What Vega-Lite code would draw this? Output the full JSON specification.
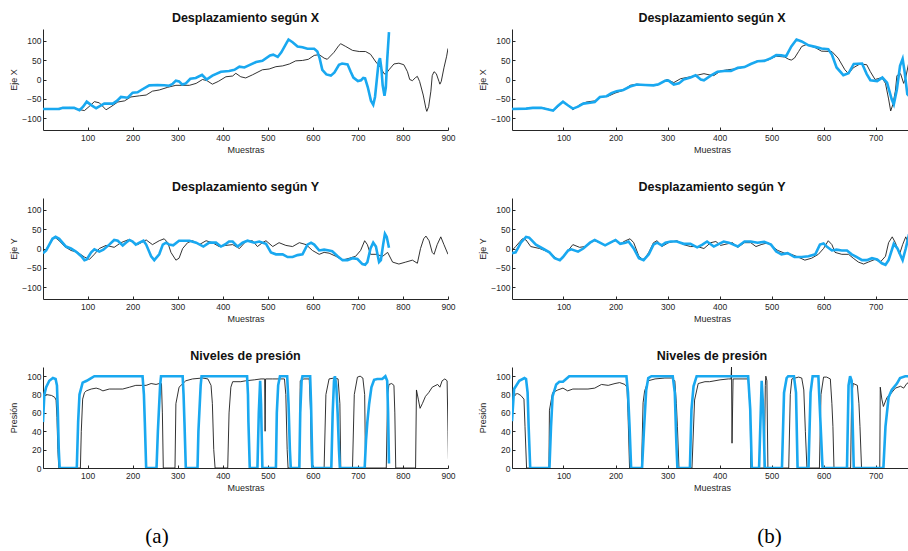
{
  "$schema": "https://vega.github.io/schema/vega-lite/v6.json",
  "padding": {"left": 9, "top": 11, "right": 0, "bottom": 0},
  "bounds": "flush",
  "columns": 2,
  "spacing": {"row": 68, "column": 64},
  "config": {
    "font": "Liberation Sans",
    "view": {"stroke": null},
    "axis": {
      "grid": false,
      "domainColor": "#262626",
      "domainWidth": 1,
      "tickColor": "#262626",
      "tickSize": -3,
      "labelFont": "Liberation Sans",
      "labelFontSize": 8.5,
      "labelColor": "#262626",
      "labelFlush": false,
      "titleFont": "Liberation Sans",
      "titleFontSize": 9,
      "titleFontWeight": "normal",
      "titleColor": "#262626"
    },
    "axisX": {"titleY": 19.5, "titleBaseline": "middle", "labelPadding": 6},
    "axisY": {"titleX": -30, "titleBaseline": "middle", "labelPadding": 5},
    "title": {"fontSize": 12.5, "fontWeight": "bold", "color": "#111111", "offset": 5, "font": "Liberation Sans"}
  },
  "datasets": {
    "xa": [
      {"muestra":1,"valor":-76,"serie":"real"},{"muestra":30,"valor":-75,"serie":"real"},{"muestra":60,"valor":-72,"serie":"real"},{"muestra":80,"valor":-77,"serie":"real"},{"muestra":93,"valor":-80,"serie":"real"},{"muestra":105,"valor":-68,"serie":"real"},{"muestra":115,"valor":-57,"serie":"real"},{"muestra":126,"valor":-60,"serie":"real"},{"muestra":141,"valor":-78,"serie":"real"},{"muestra":152,"valor":-70,"serie":"real"},{"muestra":167,"valor":-58,"serie":"real"},{"muestra":182,"valor":-55,"serie":"real"},{"muestra":196,"valor":-45,"serie":"real"},{"muestra":215,"valor":-42,"serie":"real"},{"muestra":230,"valor":-40,"serie":"real"},{"muestra":244,"valor":-30,"serie":"real"},{"muestra":259,"valor":-27,"serie":"real"},{"muestra":278,"valor":-20,"serie":"real"},{"muestra":296,"valor":-15,"serie":"real"},{"muestra":326,"valor":-15,"serie":"real"},{"muestra":341,"valor":-10,"serie":"real"},{"muestra":355,"valor":0,"serie":"real"},{"muestra":365,"valor":-3,"serie":"real"},{"muestra":377,"valor":-12,"serie":"real"},{"muestra":390,"valor":-5,"serie":"real"},{"muestra":407,"valor":7,"serie":"real"},{"muestra":422,"valor":9,"serie":"real"},{"muestra":429,"valor":16,"serie":"real"},{"muestra":440,"valor":7,"serie":"real"},{"muestra":451,"valor":4,"serie":"real"},{"muestra":466,"valor":12,"serie":"real"},{"muestra":488,"valor":25,"serie":"real"},{"muestra":503,"valor":27,"serie":"real"},{"muestra":518,"valor":33,"serie":"real"},{"muestra":533,"valor":35,"serie":"real"},{"muestra":548,"valor":40,"serie":"real"},{"muestra":562,"valor":48,"serie":"real"},{"muestra":577,"valor":49,"serie":"real"},{"muestra":590,"valor":52,"serie":"real"},{"muestra":603,"valor":62,"serie":"real"},{"muestra":614,"valor":64,"serie":"real"},{"muestra":625,"valor":55,"serie":"real"},{"muestra":632,"valor":52,"serie":"real"},{"muestra":647,"valor":70,"serie":"real"},{"muestra":658,"valor":88,"serie":"real"},{"muestra":662,"valor":92,"serie":"real"},{"muestra":673,"valor":85,"serie":"real"},{"muestra":688,"valor":75,"serie":"real"},{"muestra":703,"valor":72,"serie":"real"},{"muestra":717,"valor":72,"serie":"real"},{"muestra":728,"valor":65,"serie":"real"},{"muestra":740,"valor":45,"serie":"real"},{"muestra":751,"valor":30,"serie":"real"},{"muestra":758,"valor":15,"serie":"real"},{"muestra":762,"valor":14,"serie":"real"},{"muestra":769,"valor":25,"serie":"real"},{"muestra":780,"valor":40,"serie":"real"},{"muestra":791,"valor":42,"serie":"real"},{"muestra":802,"valor":38,"serie":"real"},{"muestra":810,"valor":20,"serie":"real"},{"muestra":815,"valor":0,"serie":"real"},{"muestra":821,"valor":-3,"serie":"real"},{"muestra":828,"valor":5,"serie":"real"},{"muestra":832,"valor":8,"serie":"real"},{"muestra":837,"valor":-5,"serie":"real"},{"muestra":845,"valor":-40,"serie":"real"},{"muestra":851,"valor":-75,"serie":"real"},{"muestra":853,"valor":-82,"serie":"real"},{"muestra":857,"valor":-70,"serie":"real"},{"muestra":862,"valor":-30,"serie":"real"},{"muestra":865,"valor":10,"serie":"real"},{"muestra":869,"valor":20,"serie":"real"},{"muestra":874,"valor":15,"serie":"real"},{"muestra":880,"valor":-5,"serie":"real"},{"muestra":882,"valor":-12,"serie":"real"},{"muestra":885,"valor":-5,"serie":"real"},{"muestra":891,"valor":30,"serie":"real"},{"muestra":897,"valor":60,"serie":"real"},{"muestra":900,"valor":80,"serie":"real"},
      {"muestra":1,"valor":-76,"serie":"estimada"},{"muestra":37,"valor":-76,"serie":"estimada"},{"muestra":45,"valor":-73,"serie":"estimada"},{"muestra":70,"valor":-73,"serie":"estimada"},{"muestra":82,"valor":-79,"serie":"estimada"},{"muestra":90,"valor":-70,"serie":"estimada"},{"muestra":98,"valor":-57,"serie":"estimada"},{"muestra":108,"valor":-66,"serie":"estimada"},{"muestra":119,"valor":-74,"serie":"estimada"},{"muestra":128,"valor":-68,"serie":"estimada"},{"muestra":137,"valor":-62,"serie":"estimada"},{"muestra":156,"valor":-62,"serie":"estimada"},{"muestra":165,"valor":-55,"serie":"estimada"},{"muestra":174,"valor":-45,"serie":"estimada"},{"muestra":189,"valor":-47,"serie":"estimada"},{"muestra":200,"valor":-34,"serie":"estimada"},{"muestra":211,"valor":-33,"serie":"estimada"},{"muestra":219,"valor":-27,"serie":"estimada"},{"muestra":237,"valor":-15,"serie":"estimada"},{"muestra":255,"valor":-14,"serie":"estimada"},{"muestra":270,"valor":-15,"serie":"estimada"},{"muestra":281,"valor":-16,"serie":"estimada"},{"muestra":289,"valor":-11,"serie":"estimada"},{"muestra":296,"valor":-3,"serie":"estimada"},{"muestra":303,"valor":-5,"serie":"estimada"},{"muestra":310,"valor":-13,"serie":"estimada"},{"muestra":318,"valor":-10,"serie":"estimada"},{"muestra":328,"valor":2,"serie":"estimada"},{"muestra":340,"valor":4,"serie":"estimada"},{"muestra":354,"valor":12,"serie":"estimada"},{"muestra":364,"valor":0,"serie":"estimada"},{"muestra":377,"valor":10,"serie":"estimada"},{"muestra":396,"valor":20,"serie":"estimada"},{"muestra":414,"valor":22,"serie":"estimada"},{"muestra":426,"valor":25,"serie":"estimada"},{"muestra":437,"valor":33,"serie":"estimada"},{"muestra":448,"valor":31,"serie":"estimada"},{"muestra":459,"valor":37,"serie":"estimada"},{"muestra":474,"valor":45,"serie":"estimada"},{"muestra":488,"valor":48,"serie":"estimada"},{"muestra":505,"valor":62,"serie":"estimada"},{"muestra":512,"valor":64,"serie":"estimada"},{"muestra":522,"valor":58,"serie":"estimada"},{"muestra":530,"valor":70,"serie":"estimada"},{"muestra":542,"valor":95,"serie":"estimada"},{"muestra":546,"valor":103,"serie":"estimada"},{"muestra":555,"valor":96,"serie":"estimada"},{"muestra":566,"valor":85,"serie":"estimada"},{"muestra":577,"valor":83,"serie":"estimada"},{"muestra":588,"valor":79,"serie":"estimada"},{"muestra":603,"valor":79,"serie":"estimada"},{"muestra":610,"valor":72,"serie":"estimada"},{"muestra":615,"valor":55,"serie":"estimada"},{"muestra":621,"valor":25,"serie":"estimada"},{"muestra":630,"valor":13,"serie":"estimada"},{"muestra":640,"valor":10,"serie":"estimada"},{"muestra":648,"valor":18,"serie":"estimada"},{"muestra":658,"valor":38,"serie":"estimada"},{"muestra":665,"valor":41,"serie":"estimada"},{"muestra":677,"valor":39,"serie":"estimada"},{"muestra":684,"valor":20,"serie":"estimada"},{"muestra":690,"valor":5,"serie":"estimada"},{"muestra":700,"valor":-4,"serie":"estimada"},{"muestra":707,"valor":-2,"serie":"estimada"},{"muestra":712,"valor":4,"serie":"estimada"},{"muestra":716,"valor":3,"serie":"estimada"},{"muestra":722,"valor":-20,"serie":"estimada"},{"muestra":729,"valor":-55,"serie":"estimada"},{"muestra":734,"valor":-65,"serie":"estimada"},{"muestra":738,"valor":-45,"serie":"estimada"},{"muestra":742,"valor":0,"serie":"estimada"},{"muestra":746,"valor":45,"serie":"estimada"},{"muestra":749,"valor":55,"serie":"estimada"},{"muestra":752,"valor":30,"serie":"estimada"},{"muestra":755,"valor":-15,"serie":"estimada"},{"muestra":759,"valor":-42,"serie":"estimada"},{"muestra":762,"valor":-20,"serie":"estimada"},{"muestra":765,"valor":50,"serie":"estimada"},{"muestra":769,"valor":122,"serie":"estimada"}
    ],
    "ya": [
      {"muestra":1,"valor":-15,"serie":"real"},{"muestra":8,"valor":-2,"serie":"real"},{"muestra":15,"valor":10,"serie":"real"},{"muestra":26,"valor":30,"serie":"real"},{"muestra":37,"valor":20,"serie":"real"},{"muestra":49,"valor":5,"serie":"real"},{"muestra":63,"valor":-5,"serie":"real"},{"muestra":78,"valor":-10,"serie":"real"},{"muestra":93,"valor":-22,"serie":"real"},{"muestra":104,"valor":-28,"serie":"real"},{"muestra":115,"valor":-15,"serie":"real"},{"muestra":126,"valor":0,"serie":"real"},{"muestra":141,"valor":8,"serie":"real"},{"muestra":152,"valor":5,"serie":"real"},{"muestra":159,"valor":3,"serie":"real"},{"muestra":174,"valor":15,"serie":"real"},{"muestra":189,"valor":22,"serie":"real"},{"muestra":200,"valor":18,"serie":"real"},{"muestra":211,"valor":10,"serie":"real"},{"muestra":230,"valor":22,"serie":"real"},{"muestra":244,"valor":10,"serie":"real"},{"muestra":259,"valor":20,"serie":"real"},{"muestra":270,"valor":25,"serie":"real"},{"muestra":278,"valor":15,"serie":"real"},{"muestra":285,"valor":-10,"serie":"real"},{"muestra":296,"valor":-30,"serie":"real"},{"muestra":303,"valor":-25,"serie":"real"},{"muestra":311,"valor":0,"serie":"real"},{"muestra":322,"valor":15,"serie":"real"},{"muestra":333,"valor":20,"serie":"real"},{"muestra":348,"valor":10,"serie":"real"},{"muestra":363,"valor":20,"serie":"real"},{"muestra":377,"valor":15,"serie":"real"},{"muestra":392,"valor":5,"serie":"real"},{"muestra":407,"valor":8,"serie":"real"},{"muestra":422,"valor":10,"serie":"real"},{"muestra":437,"valor":0,"serie":"real"},{"muestra":451,"valor":18,"serie":"real"},{"muestra":466,"valor":20,"serie":"real"},{"muestra":477,"valor":5,"serie":"real"},{"muestra":488,"valor":15,"serie":"real"},{"muestra":496,"valor":20,"serie":"real"},{"muestra":511,"valor":5,"serie":"real"},{"muestra":525,"valor":15,"serie":"real"},{"muestra":540,"valor":8,"serie":"real"},{"muestra":555,"valor":5,"serie":"real"},{"muestra":570,"valor":15,"serie":"real"},{"muestra":585,"valor":10,"serie":"real"},{"muestra":599,"valor":-5,"serie":"real"},{"muestra":614,"valor":-15,"serie":"real"},{"muestra":625,"valor":-10,"serie":"real"},{"muestra":636,"valor":-12,"serie":"real"},{"muestra":651,"valor":-20,"serie":"real"},{"muestra":666,"valor":-30,"serie":"real"},{"muestra":681,"valor":-25,"serie":"real"},{"muestra":695,"valor":-20,"serie":"real"},{"muestra":706,"valor":-5,"serie":"real"},{"muestra":715,"valor":20,"serie":"real"},{"muestra":721,"valor":10,"serie":"real"},{"muestra":728,"valor":-15,"serie":"real"},{"muestra":740,"valor":-15,"serie":"real"},{"muestra":755,"valor":-20,"serie":"real"},{"muestra":766,"valor":-10,"serie":"real"},{"muestra":777,"valor":-35,"serie":"real"},{"muestra":791,"valor":-40,"serie":"real"},{"muestra":806,"valor":-35,"serie":"real"},{"muestra":821,"valor":-30,"serie":"real"},{"muestra":832,"valor":-38,"serie":"real"},{"muestra":839,"valor":0,"serie":"real"},{"muestra":846,"valor":25,"serie":"real"},{"muestra":851,"valor":32,"serie":"real"},{"muestra":858,"valor":20,"serie":"real"},{"muestra":865,"valor":-10,"serie":"real"},{"muestra":869,"valor":-15,"serie":"real"},{"muestra":876,"valor":10,"serie":"real"},{"muestra":884,"valor":30,"serie":"real"},{"muestra":891,"valor":10,"serie":"real"},{"muestra":900,"valor":-15,"serie":"real"},
      {"muestra":1,"valor":-12,"serie":"estimada"},{"muestra":8,"valor":-5,"serie":"estimada"},{"muestra":15,"valor":10,"serie":"estimada"},{"muestra":22,"valor":25,"serie":"estimada"},{"muestra":29,"valor":30,"serie":"estimada"},{"muestra":37,"valor":25,"serie":"estimada"},{"muestra":52,"valor":5,"serie":"estimada"},{"muestra":63,"valor":0,"serie":"estimada"},{"muestra":74,"valor":-8,"serie":"estimada"},{"muestra":86,"valor":-20,"serie":"estimada"},{"muestra":93,"valor":-30,"serie":"estimada"},{"muestra":98,"valor":-28,"serie":"estimada"},{"muestra":108,"valor":-10,"serie":"estimada"},{"muestra":115,"valor":-2,"serie":"estimada"},{"muestra":126,"valor":-8,"serie":"estimada"},{"muestra":135,"valor":-3,"serie":"estimada"},{"muestra":148,"valor":10,"serie":"estimada"},{"muestra":159,"valor":22,"serie":"estimada"},{"muestra":167,"valor":20,"serie":"estimada"},{"muestra":178,"valor":8,"serie":"estimada"},{"muestra":185,"valor":15,"serie":"estimada"},{"muestra":193,"valor":22,"serie":"estimada"},{"muestra":200,"valor":18,"serie":"estimada"},{"muestra":207,"valor":10,"serie":"estimada"},{"muestra":215,"valor":15,"serie":"estimada"},{"muestra":224,"valor":20,"serie":"estimada"},{"muestra":230,"valor":10,"serie":"estimada"},{"muestra":241,"valor":-20,"serie":"estimada"},{"muestra":248,"valor":-30,"serie":"estimada"},{"muestra":259,"valor":-15,"serie":"estimada"},{"muestra":267,"valor":10,"serie":"estimada"},{"muestra":274,"valor":15,"serie":"estimada"},{"muestra":281,"valor":10,"serie":"estimada"},{"muestra":290,"valor":8,"serie":"estimada"},{"muestra":303,"valor":20,"serie":"estimada"},{"muestra":326,"valor":20,"serie":"estimada"},{"muestra":341,"valor":15,"serie":"estimada"},{"muestra":357,"valor":5,"serie":"estimada"},{"muestra":370,"valor":15,"serie":"estimada"},{"muestra":385,"valor":15,"serie":"estimada"},{"muestra":396,"valor":5,"serie":"estimada"},{"muestra":407,"valor":12,"serie":"estimada"},{"muestra":414,"valor":18,"serie":"estimada"},{"muestra":422,"valor":18,"serie":"estimada"},{"muestra":433,"valor":5,"serie":"estimada"},{"muestra":444,"valor":15,"serie":"estimada"},{"muestra":455,"valor":20,"serie":"estimada"},{"muestra":470,"valor":15,"serie":"estimada"},{"muestra":481,"valor":18,"serie":"estimada"},{"muestra":496,"valor":12,"serie":"estimada"},{"muestra":507,"valor":-10,"serie":"estimada"},{"muestra":518,"valor":-15,"serie":"estimada"},{"muestra":533,"valor":-15,"serie":"estimada"},{"muestra":544,"valor":-22,"serie":"estimada"},{"muestra":555,"valor":-22,"serie":"estimada"},{"muestra":566,"valor":-17,"serie":"estimada"},{"muestra":577,"valor":-15,"serie":"estimada"},{"muestra":588,"valor":10,"serie":"estimada"},{"muestra":596,"valor":15,"serie":"estimada"},{"muestra":603,"valor":10,"serie":"estimada"},{"muestra":614,"valor":-5,"serie":"estimada"},{"muestra":625,"valor":-3,"serie":"estimada"},{"muestra":636,"valor":-5,"serie":"estimada"},{"muestra":643,"valor":-7,"serie":"estimada"},{"muestra":655,"valor":-20,"serie":"estimada"},{"muestra":666,"valor":-30,"serie":"estimada"},{"muestra":677,"valor":-30,"serie":"estimada"},{"muestra":688,"valor":-25,"serie":"estimada"},{"muestra":699,"valor":-27,"serie":"estimada"},{"muestra":710,"valor":-40,"serie":"estimada"},{"muestra":716,"valor":-42,"serie":"estimada"},{"muestra":721,"valor":-35,"serie":"estimada"},{"muestra":728,"valor":0,"serie":"estimada"},{"muestra":734,"valor":15,"serie":"estimada"},{"muestra":740,"valor":5,"serie":"estimada"},{"muestra":747,"valor":-35,"serie":"estimada"},{"muestra":751,"valor":-30,"serie":"estimada"},{"muestra":756,"valor":10,"serie":"estimada"},{"muestra":760,"valor":38,"serie":"estimada"},{"muestra":764,"valor":30,"serie":"estimada"},{"muestra":769,"valor":2,"serie":"estimada"}
    ],
    "pa": [
      {"muestra":1,"valor":70,"serie":"real"},{"muestra":3,"valor":78,"serie":"real"},{"muestra":8,"valor":80,"serie":"real"},{"muestra":20,"valor":79,"serie":"real"},{"muestra":27,"valor":77,"serie":"real"},{"muestra":30,"valor":74,"serie":"real"},{"muestra":32,"valor":55,"serie":"real"},{"muestra":34,"valor":20,"serie":"real"},{"muestra":36,"valor":0,"serie":"real"},{"muestra":84,"valor":0,"serie":"real"},{"muestra":86,"valor":40,"serie":"real"},{"muestra":89,"valor":75,"serie":"real"},{"muestra":93,"valor":82,"serie":"real"},{"muestra":97,"valor":84,"serie":"real"},{"muestra":108,"valor":86,"serie":"real"},{"muestra":119,"valor":87,"serie":"real"},{"muestra":126,"valor":86,"serie":"real"},{"muestra":134,"valor":84,"serie":"real"},{"muestra":148,"valor":86,"serie":"real"},{"muestra":163,"valor":86,"serie":"real"},{"muestra":178,"valor":86,"serie":"real"},{"muestra":193,"valor":88,"serie":"real"},{"muestra":207,"valor":90,"serie":"real"},{"muestra":219,"valor":90,"serie":"real"},{"muestra":230,"valor":90,"serie":"real"},{"muestra":241,"valor":92,"serie":"real"},{"muestra":252,"valor":91,"serie":"real"},{"muestra":259,"valor":92,"serie":"real"},{"muestra":264,"valor":92,"serie":"real"},{"muestra":266,"valor":60,"serie":"real"},{"muestra":268,"valor":0,"serie":"real"},{"muestra":294,"valor":0,"serie":"real"},{"muestra":296,"valor":70,"serie":"real"},{"muestra":303,"valor":88,"serie":"real"},{"muestra":318,"valor":95,"serie":"real"},{"muestra":333,"valor":97,"serie":"real"},{"muestra":355,"valor":98,"serie":"real"},{"muestra":367,"valor":97,"serie":"real"},{"muestra":374,"valor":90,"serie":"real"},{"muestra":377,"valor":70,"serie":"real"},{"muestra":380,"valor":20,"serie":"real"},{"muestra":383,"valor":0,"serie":"real"},{"muestra":411,"valor":0,"serie":"real"},{"muestra":414,"valor":60,"serie":"real"},{"muestra":418,"valor":88,"serie":"real"},{"muestra":422,"valor":94,"serie":"real"},{"muestra":440,"valor":94,"serie":"real"},{"muestra":451,"valor":95,"serie":"real"},{"muestra":470,"valor":96,"serie":"real"},{"muestra":485,"valor":97,"serie":"real"},{"muestra":493,"valor":97,"serie":"real"},{"muestra":494,"valor":40,"serie":"real"},{"muestra":495,"valor":97,"serie":"real"},{"muestra":510,"valor":97,"serie":"real"},{"muestra":537,"valor":97,"serie":"real"},{"muestra":540,"valor":80,"serie":"real"},{"muestra":543,"valor":20,"serie":"real"},{"muestra":545,"valor":0,"serie":"real"},{"muestra":570,"valor":0,"serie":"real"},{"muestra":572,"valor":95,"serie":"real"},{"muestra":580,"valor":97,"serie":"real"},{"muestra":592,"valor":97,"serie":"real"},{"muestra":595,"valor":60,"serie":"real"},{"muestra":597,"valor":0,"serie":"real"},{"muestra":625,"valor":0,"serie":"real"},{"muestra":629,"valor":80,"serie":"real"},{"muestra":636,"valor":97,"serie":"real"},{"muestra":647,"valor":98,"serie":"real"},{"muestra":656,"valor":97,"serie":"real"},{"muestra":660,"valor":70,"serie":"real"},{"muestra":662,"valor":0,"serie":"real"},{"muestra":688,"valor":0,"serie":"real"},{"muestra":692,"valor":80,"serie":"real"},{"muestra":699,"valor":99,"serie":"real"},{"muestra":705,"valor":100,"serie":"real"},{"muestra":711,"valor":98,"serie":"real"},{"muestra":715,"valor":80,"serie":"real"},{"muestra":717,"valor":0,"serie":"real"},{"muestra":763,"valor":0,"serie":"real"},{"muestra":766,"valor":80,"serie":"real"},{"muestra":769,"valor":91,"serie":"real"},{"muestra":775,"valor":92,"serie":"real"},{"muestra":780,"valor":90,"serie":"real"},{"muestra":782,"valor":60,"serie":"real"},{"muestra":784,"valor":0,"serie":"real"},{"muestra":828,"valor":0,"serie":"real"},{"muestra":830,"valor":85,"serie":"real"},{"muestra":834,"valor":75,"serie":"real"},{"muestra":838,"valor":65,"serie":"real"},{"muestra":843,"valor":70,"serie":"real"},{"muestra":850,"valor":78,"serie":"real"},{"muestra":857,"valor":82,"serie":"real"},{"muestra":865,"valor":88,"serie":"real"},{"muestra":877,"valor":91,"serie":"real"},{"muestra":882,"valor":88,"serie":"real"},{"muestra":887,"valor":95,"serie":"real"},{"muestra":893,"valor":97,"serie":"real"},{"muestra":898,"valor":95,"serie":"real"},{"muestra":900,"valor":40,"serie":"real"},{"muestra":901,"valor":10,"serie":"real"},
      {"muestra":1,"valor":50,"serie":"estimada"},{"muestra":4,"valor":80,"serie":"estimada"},{"muestra":8,"valor":88,"serie":"estimada"},{"muestra":15,"valor":95,"serie":"estimada"},{"muestra":23,"valor":98,"serie":"estimada"},{"muestra":29,"valor":97,"serie":"estimada"},{"muestra":32,"valor":90,"serie":"estimada"},{"muestra":34,"valor":60,"serie":"estimada"},{"muestra":36,"valor":20,"serie":"estimada"},{"muestra":38,"valor":0,"serie":"estimada"},{"muestra":76,"valor":0,"serie":"estimada"},{"muestra":79,"valor":50,"serie":"estimada"},{"muestra":82,"valor":80,"serie":"estimada"},{"muestra":89,"valor":93,"serie":"estimada"},{"muestra":98,"valor":95,"serie":"estimada"},{"muestra":108,"valor":98,"serie":"estimada"},{"muestra":115,"valor":100,"serie":"estimada"},{"muestra":222,"valor":100,"serie":"estimada"},{"muestra":225,"valor":80,"serie":"estimada"},{"muestra":227,"valor":50,"serie":"estimada"},{"muestra":230,"valor":0,"serie":"estimada"},{"muestra":253,"valor":0,"serie":"estimada"},{"muestra":256,"valor":40,"serie":"estimada"},{"muestra":258,"valor":60,"serie":"estimada"},{"muestra":261,"valor":90,"serie":"estimada"},{"muestra":263,"valor":100,"serie":"estimada"},{"muestra":311,"valor":100,"serie":"estimada"},{"muestra":313,"valor":80,"serie":"estimada"},{"muestra":315,"valor":50,"serie":"estimada"},{"muestra":318,"valor":0,"serie":"estimada"},{"muestra":344,"valor":0,"serie":"estimada"},{"muestra":346,"valor":40,"serie":"estimada"},{"muestra":348,"valor":60,"serie":"estimada"},{"muestra":351,"valor":90,"serie":"estimada"},{"muestra":353,"valor":100,"serie":"estimada"},{"muestra":454,"valor":100,"serie":"estimada"},{"muestra":456,"valor":80,"serie":"estimada"},{"muestra":457,"valor":50,"serie":"estimada"},{"muestra":460,"valor":0,"serie":"estimada"},{"muestra":477,"valor":0,"serie":"estimada"},{"muestra":480,"valor":60,"serie":"estimada"},{"muestra":483,"valor":95,"serie":"estimada"},{"muestra":485,"valor":70,"serie":"estimada"},{"muestra":488,"valor":0,"serie":"estimada"},{"muestra":518,"valor":0,"serie":"estimada"},{"muestra":520,"valor":60,"serie":"estimada"},{"muestra":523,"valor":90,"serie":"estimada"},{"muestra":527,"valor":100,"serie":"estimada"},{"muestra":543,"valor":100,"serie":"estimada"},{"muestra":546,"valor":70,"serie":"estimada"},{"muestra":549,"valor":20,"serie":"estimada"},{"muestra":551,"valor":0,"serie":"estimada"},{"muestra":570,"valor":0,"serie":"estimada"},{"muestra":572,"valor":60,"serie":"estimada"},{"muestra":575,"valor":95,"serie":"estimada"},{"muestra":577,"valor":100,"serie":"estimada"},{"muestra":594,"valor":100,"serie":"estimada"},{"muestra":596,"valor":70,"serie":"estimada"},{"muestra":599,"valor":0,"serie":"estimada"},{"muestra":641,"valor":0,"serie":"estimada"},{"muestra":644,"valor":60,"serie":"estimada"},{"muestra":647,"valor":95,"serie":"estimada"},{"muestra":649,"valor":100,"serie":"estimada"},{"muestra":652,"valor":90,"serie":"estimada"},{"muestra":655,"valor":60,"serie":"estimada"},{"muestra":658,"valor":20,"serie":"estimada"},{"muestra":660,"valor":0,"serie":"estimada"},{"muestra":715,"valor":0,"serie":"estimada"},{"muestra":718,"valor":30,"serie":"estimada"},{"muestra":721,"valor":50,"serie":"estimada"},{"muestra":725,"valor":70,"serie":"estimada"},{"muestra":730,"valor":88,"serie":"estimada"},{"muestra":736,"valor":96,"serie":"estimada"},{"muestra":743,"valor":97,"serie":"estimada"},{"muestra":754,"valor":97,"serie":"estimada"},{"muestra":761,"valor":100,"serie":"estimada"},{"muestra":765,"valor":95,"serie":"estimada"},{"muestra":767,"valor":60,"serie":"estimada"},{"muestra":769,"valor":5,"serie":"estimada"}
    ],
    "xb": [
      {"muestra":1,"valor":-76,"serie":"real"},{"muestra":30,"valor":-75,"serie":"real"},{"muestra":57,"valor":-72,"serie":"real"},{"muestra":70,"valor":-76,"serie":"real"},{"muestra":80,"valor":-80,"serie":"real"},{"muestra":90,"valor":-70,"serie":"real"},{"muestra":99,"valor":-58,"serie":"real"},{"muestra":110,"valor":-68,"serie":"real"},{"muestra":118,"valor":-78,"serie":"real"},{"muestra":131,"valor":-65,"serie":"real"},{"muestra":144,"valor":-58,"serie":"real"},{"muestra":160,"valor":-55,"serie":"real"},{"muestra":173,"valor":-45,"serie":"real"},{"muestra":186,"valor":-43,"serie":"real"},{"muestra":199,"valor":-35,"serie":"real"},{"muestra":215,"valor":-28,"serie":"real"},{"muestra":228,"valor":-15,"serie":"real"},{"muestra":241,"valor":-12,"serie":"real"},{"muestra":260,"valor":-15,"serie":"real"},{"muestra":280,"valor":-15,"serie":"real"},{"muestra":290,"valor":-8,"serie":"real"},{"muestra":299,"valor":0,"serie":"real"},{"muestra":312,"valor":-8,"serie":"real"},{"muestra":325,"valor":2,"serie":"real"},{"muestra":344,"valor":7,"serie":"real"},{"muestra":360,"valor":12,"serie":"real"},{"muestra":370,"valor":15,"serie":"real"},{"muestra":380,"valor":12,"serie":"real"},{"muestra":389,"valor":10,"serie":"real"},{"muestra":402,"valor":22,"serie":"real"},{"muestra":415,"valor":25,"serie":"real"},{"muestra":435,"valor":28,"serie":"real"},{"muestra":454,"valor":35,"serie":"real"},{"muestra":473,"valor":48,"serie":"real"},{"muestra":493,"valor":50,"serie":"real"},{"muestra":509,"valor":60,"serie":"real"},{"muestra":525,"valor":58,"serie":"real"},{"muestra":533,"valor":52,"serie":"real"},{"muestra":538,"valor":50,"serie":"real"},{"muestra":544,"valor":55,"serie":"real"},{"muestra":552,"valor":72,"serie":"real"},{"muestra":558,"valor":85,"serie":"real"},{"muestra":567,"valor":90,"serie":"real"},{"muestra":584,"valor":82,"serie":"real"},{"muestra":596,"valor":73,"serie":"real"},{"muestra":616,"valor":72,"serie":"real"},{"muestra":628,"valor":55,"serie":"real"},{"muestra":641,"valor":25,"serie":"real"},{"muestra":648,"valor":15,"serie":"real"},{"muestra":657,"valor":30,"serie":"real"},{"muestra":670,"valor":40,"serie":"real"},{"muestra":683,"valor":38,"serie":"real"},{"muestra":690,"valor":20,"serie":"real"},{"muestra":699,"valor":0,"serie":"real"},{"muestra":712,"valor":5,"serie":"real"},{"muestra":719,"valor":-10,"serie":"real"},{"muestra":725,"valor":-50,"serie":"real"},{"muestra":729,"valor":-81,"serie":"real"},{"muestra":733,"valor":-65,"serie":"real"},{"muestra":738,"valor":-30,"serie":"real"},{"muestra":741,"valor":10,"serie":"real"},{"muestra":748,"valor":15,"serie":"real"},{"muestra":754,"valor":-10,"serie":"real"},{"muestra":758,"valor":5,"serie":"real"},{"muestra":764,"valor":45,"serie":"real"},{"muestra":770,"valor":45,"serie":"real"},
      {"muestra":1,"valor":-76,"serie":"estimada"},{"muestra":28,"valor":-75,"serie":"estimada"},{"muestra":41,"valor":-73,"serie":"estimada"},{"muestra":57,"valor":-73,"serie":"estimada"},{"muestra":73,"valor":-78,"serie":"estimada"},{"muestra":80,"valor":-80,"serie":"estimada"},{"muestra":89,"valor":-68,"serie":"estimada"},{"muestra":99,"valor":-57,"serie":"estimada"},{"muestra":109,"valor":-67,"serie":"estimada"},{"muestra":118,"valor":-75,"serie":"estimada"},{"muestra":128,"valor":-70,"serie":"estimada"},{"muestra":138,"valor":-62,"serie":"estimada"},{"muestra":151,"valor":-60,"serie":"estimada"},{"muestra":160,"valor":-58,"serie":"estimada"},{"muestra":170,"valor":-45,"serie":"estimada"},{"muestra":183,"valor":-43,"serie":"estimada"},{"muestra":192,"valor":-35,"serie":"estimada"},{"muestra":202,"valor":-30,"serie":"estimada"},{"muestra":215,"valor":-27,"serie":"estimada"},{"muestra":228,"valor":-18,"serie":"estimada"},{"muestra":241,"valor":-13,"serie":"estimada"},{"muestra":257,"valor":-14,"serie":"estimada"},{"muestra":273,"valor":-15,"serie":"estimada"},{"muestra":283,"valor":-12,"serie":"estimada"},{"muestra":296,"valor":-3,"serie":"estimada"},{"muestra":302,"valor":-3,"serie":"estimada"},{"muestra":312,"valor":-13,"serie":"estimada"},{"muestra":322,"valor":-10,"serie":"estimada"},{"muestra":331,"valor":0,"serie":"estimada"},{"muestra":344,"valor":5,"serie":"estimada"},{"muestra":354,"valor":11,"serie":"estimada"},{"muestra":364,"valor":0,"serie":"estimada"},{"muestra":370,"valor":-2,"serie":"estimada"},{"muestra":383,"valor":10,"serie":"estimada"},{"muestra":396,"valor":20,"serie":"estimada"},{"muestra":409,"valor":22,"serie":"estimada"},{"muestra":422,"valor":22,"serie":"estimada"},{"muestra":435,"valor":30,"serie":"estimada"},{"muestra":448,"valor":32,"serie":"estimada"},{"muestra":460,"valor":40,"serie":"estimada"},{"muestra":473,"valor":47,"serie":"estimada"},{"muestra":486,"valor":48,"serie":"estimada"},{"muestra":499,"valor":55,"serie":"estimada"},{"muestra":509,"valor":63,"serie":"estimada"},{"muestra":519,"valor":62,"serie":"estimada"},{"muestra":528,"valor":60,"serie":"estimada"},{"muestra":538,"valor":85,"serie":"estimada"},{"muestra":548,"valor":103,"serie":"estimada"},{"muestra":558,"valor":98,"serie":"estimada"},{"muestra":571,"valor":88,"serie":"estimada"},{"muestra":584,"valor":84,"serie":"estimada"},{"muestra":596,"valor":80,"serie":"estimada"},{"muestra":609,"valor":78,"serie":"estimada"},{"muestra":616,"valor":64,"serie":"estimada"},{"muestra":625,"valor":31,"serie":"estimada"},{"muestra":638,"valor":11,"serie":"estimada"},{"muestra":648,"valor":16,"serie":"estimada"},{"muestra":658,"valor":40,"serie":"estimada"},{"muestra":674,"valor":41,"serie":"estimada"},{"muestra":683,"valor":14,"serie":"estimada"},{"muestra":690,"valor":-2,"serie":"estimada"},{"muestra":703,"valor":-4,"serie":"estimada"},{"muestra":713,"valor":5,"serie":"estimada"},{"muestra":722,"valor":-8,"serie":"estimada"},{"muestra":731,"valor":-51,"serie":"estimada"},{"muestra":735,"valor":-64,"serie":"estimada"},{"muestra":741,"valor":-25,"serie":"estimada"},{"muestra":747,"valor":35,"serie":"estimada"},{"muestra":752,"valor":53,"serie":"estimada"},{"muestra":756,"valor":18,"serie":"estimada"},{"muestra":761,"valor":-38,"serie":"estimada"},{"muestra":764,"valor":-42,"serie":"estimada"},{"muestra":767,"valor":-38,"serie":"estimada"},{"muestra":770,"valor":-25,"serie":"estimada"}
    ],
    "yb": [
      {"muestra":1,"valor":-5,"serie":"real"},{"muestra":8,"valor":5,"serie":"real"},{"muestra":21,"valor":25,"serie":"real"},{"muestra":28,"valor":22,"serie":"real"},{"muestra":37,"valor":5,"serie":"real"},{"muestra":54,"valor":0,"serie":"real"},{"muestra":73,"valor":-10,"serie":"real"},{"muestra":86,"valor":-25,"serie":"real"},{"muestra":93,"valor":-30,"serie":"real"},{"muestra":106,"valor":-10,"serie":"real"},{"muestra":118,"valor":10,"serie":"real"},{"muestra":131,"valor":3,"serie":"real"},{"muestra":141,"valor":5,"serie":"real"},{"muestra":151,"valor":15,"serie":"real"},{"muestra":160,"valor":20,"serie":"real"},{"muestra":170,"valor":15,"serie":"real"},{"muestra":180,"valor":8,"serie":"real"},{"muestra":190,"valor":15,"serie":"real"},{"muestra":200,"valor":20,"serie":"real"},{"muestra":209,"valor":12,"serie":"real"},{"muestra":219,"valor":20,"serie":"real"},{"muestra":228,"valor":25,"serie":"real"},{"muestra":235,"valor":15,"serie":"real"},{"muestra":245,"valor":-20,"serie":"real"},{"muestra":254,"valor":-30,"serie":"real"},{"muestra":264,"valor":-10,"serie":"real"},{"muestra":273,"valor":15,"serie":"real"},{"muestra":280,"valor":20,"serie":"real"},{"muestra":289,"valor":5,"serie":"real"},{"muestra":302,"valor":15,"serie":"real"},{"muestra":318,"valor":20,"serie":"real"},{"muestra":331,"valor":10,"serie":"real"},{"muestra":344,"valor":5,"serie":"real"},{"muestra":357,"valor":5,"serie":"real"},{"muestra":370,"valor":0,"serie":"real"},{"muestra":383,"valor":15,"serie":"real"},{"muestra":393,"valor":18,"serie":"real"},{"muestra":402,"valor":8,"serie":"real"},{"muestra":415,"valor":12,"serie":"real"},{"muestra":425,"valor":15,"serie":"real"},{"muestra":435,"valor":3,"serie":"real"},{"muestra":448,"valor":15,"serie":"real"},{"muestra":460,"valor":15,"serie":"real"},{"muestra":470,"valor":5,"serie":"real"},{"muestra":480,"valor":10,"serie":"real"},{"muestra":493,"valor":15,"serie":"real"},{"muestra":502,"valor":5,"serie":"real"},{"muestra":512,"valor":-5,"serie":"real"},{"muestra":525,"valor":-12,"serie":"real"},{"muestra":538,"valor":-15,"serie":"real"},{"muestra":551,"valor":-22,"serie":"real"},{"muestra":564,"valor":-30,"serie":"real"},{"muestra":577,"valor":-25,"serie":"real"},{"muestra":590,"valor":-15,"serie":"real"},{"muestra":600,"valor":0,"serie":"real"},{"muestra":609,"valor":20,"serie":"real"},{"muestra":616,"valor":10,"serie":"real"},{"muestra":622,"valor":-10,"serie":"real"},{"muestra":635,"valor":-15,"serie":"real"},{"muestra":648,"valor":-15,"serie":"real"},{"muestra":657,"valor":-25,"serie":"real"},{"muestra":667,"valor":-35,"serie":"real"},{"muestra":677,"valor":-40,"serie":"real"},{"muestra":686,"valor":-35,"serie":"real"},{"muestra":699,"valor":-28,"serie":"real"},{"muestra":709,"valor":-35,"serie":"real"},{"muestra":719,"valor":-20,"serie":"real"},{"muestra":725,"valor":15,"serie":"real"},{"muestra":732,"valor":30,"serie":"real"},{"muestra":738,"valor":15,"serie":"real"},{"muestra":746,"valor":-15,"serie":"real"},{"muestra":752,"valor":10,"serie":"real"},{"muestra":758,"valor":30,"serie":"real"},{"muestra":764,"valor":10,"serie":"real"},{"muestra":770,"valor":0,"serie":"real"},
      {"muestra":1,"valor":-12,"serie":"estimada"},{"muestra":8,"valor":-10,"serie":"estimada"},{"muestra":18,"valor":15,"serie":"estimada"},{"muestra":28,"valor":30,"serie":"estimada"},{"muestra":34,"valor":28,"serie":"estimada"},{"muestra":47,"valor":10,"serie":"estimada"},{"muestra":60,"valor":0,"serie":"estimada"},{"muestra":73,"valor":-10,"serie":"estimada"},{"muestra":83,"valor":-25,"serie":"estimada"},{"muestra":93,"valor":-30,"serie":"estimada"},{"muestra":99,"valor":-22,"serie":"estimada"},{"muestra":109,"valor":-5,"serie":"estimada"},{"muestra":115,"valor":-2,"serie":"estimada"},{"muestra":128,"valor":-8,"serie":"estimada"},{"muestra":138,"valor":0,"serie":"estimada"},{"muestra":151,"valor":15,"serie":"estimada"},{"muestra":160,"valor":22,"serie":"estimada"},{"muestra":170,"valor":15,"serie":"estimada"},{"muestra":180,"valor":8,"serie":"estimada"},{"muestra":190,"valor":15,"serie":"estimada"},{"muestra":200,"valor":22,"serie":"estimada"},{"muestra":209,"valor":12,"serie":"estimada"},{"muestra":219,"valor":15,"serie":"estimada"},{"muestra":225,"valor":18,"serie":"estimada"},{"muestra":235,"valor":0,"serie":"estimada"},{"muestra":245,"valor":-25,"serie":"estimada"},{"muestra":254,"valor":-30,"serie":"estimada"},{"muestra":264,"valor":-15,"serie":"estimada"},{"muestra":273,"valor":10,"serie":"estimada"},{"muestra":280,"valor":15,"serie":"estimada"},{"muestra":289,"valor":8,"serie":"estimada"},{"muestra":296,"valor":15,"serie":"estimada"},{"muestra":306,"valor":18,"serie":"estimada"},{"muestra":318,"valor":18,"serie":"estimada"},{"muestra":331,"valor":12,"serie":"estimada"},{"muestra":344,"valor":12,"serie":"estimada"},{"muestra":357,"valor":3,"serie":"estimada"},{"muestra":367,"valor":10,"serie":"estimada"},{"muestra":376,"valor":18,"serie":"estimada"},{"muestra":389,"valor":5,"serie":"estimada"},{"muestra":399,"valor":12,"serie":"estimada"},{"muestra":408,"valor":18,"serie":"estimada"},{"muestra":418,"valor":15,"serie":"estimada"},{"muestra":435,"valor":5,"serie":"estimada"},{"muestra":448,"valor":18,"serie":"estimada"},{"muestra":460,"valor":18,"serie":"estimada"},{"muestra":473,"valor":15,"serie":"estimada"},{"muestra":486,"valor":17,"serie":"estimada"},{"muestra":499,"valor":10,"serie":"estimada"},{"muestra":509,"valor":-8,"serie":"estimada"},{"muestra":519,"valor":-15,"serie":"estimada"},{"muestra":531,"valor":-12,"serie":"estimada"},{"muestra":544,"valor":-22,"serie":"estimada"},{"muestra":558,"valor":-22,"serie":"estimada"},{"muestra":571,"valor":-20,"serie":"estimada"},{"muestra":584,"valor":-15,"serie":"estimada"},{"muestra":593,"valor":10,"serie":"estimada"},{"muestra":600,"valor":13,"serie":"estimada"},{"muestra":606,"valor":5,"serie":"estimada"},{"muestra":616,"valor":-5,"serie":"estimada"},{"muestra":625,"valor":-3,"serie":"estimada"},{"muestra":635,"valor":-5,"serie":"estimada"},{"muestra":645,"valor":-5,"serie":"estimada"},{"muestra":654,"valor":-15,"serie":"estimada"},{"muestra":664,"valor":-22,"serie":"estimada"},{"muestra":674,"valor":-30,"serie":"estimada"},{"muestra":683,"valor":-30,"serie":"estimada"},{"muestra":693,"valor":-25,"serie":"estimada"},{"muestra":703,"valor":-28,"serie":"estimada"},{"muestra":712,"valor":-38,"serie":"estimada"},{"muestra":719,"valor":-42,"serie":"estimada"},{"muestra":725,"valor":-30,"serie":"estimada"},{"muestra":735,"valor":12,"serie":"estimada"},{"muestra":742,"valor":0,"serie":"estimada"},{"muestra":752,"valor":-30,"serie":"estimada"},{"muestra":758,"valor":0,"serie":"estimada"},{"muestra":764,"valor":35,"serie":"estimada"},{"muestra":770,"valor":40,"serie":"estimada"}
    ],
    "pb": [
      {"muestra":1,"valor":71,"serie":"real"},{"muestra":4,"valor":80,"serie":"real"},{"muestra":12,"valor":81,"serie":"real"},{"muestra":18,"valor":79,"serie":"real"},{"muestra":24,"valor":75,"serie":"real"},{"muestra":26,"valor":45,"serie":"real"},{"muestra":29,"valor":0,"serie":"real"},{"muestra":72,"valor":0,"serie":"real"},{"muestra":73,"valor":63,"serie":"real"},{"muestra":79,"valor":82,"serie":"real"},{"muestra":89,"valor":85,"serie":"real"},{"muestra":99,"valor":87,"serie":"real"},{"muestra":108,"valor":84,"serie":"real"},{"muestra":118,"valor":86,"serie":"real"},{"muestra":128,"valor":86,"serie":"real"},{"muestra":147,"valor":86,"serie":"real"},{"muestra":160,"valor":87,"serie":"real"},{"muestra":173,"valor":91,"serie":"real"},{"muestra":186,"valor":90,"serie":"real"},{"muestra":199,"valor":92,"serie":"real"},{"muestra":208,"valor":93,"serie":"real"},{"muestra":218,"valor":91,"serie":"real"},{"muestra":222,"valor":88,"serie":"real"},{"muestra":224,"valor":60,"serie":"real"},{"muestra":227,"valor":0,"serie":"real"},{"muestra":250,"valor":0,"serie":"real"},{"muestra":253,"valor":71,"serie":"real"},{"muestra":256,"valor":84,"serie":"real"},{"muestra":263,"valor":95,"serie":"real"},{"muestra":276,"valor":97,"serie":"real"},{"muestra":295,"valor":98,"serie":"real"},{"muestra":308,"valor":98,"serie":"real"},{"muestra":314,"valor":95,"serie":"real"},{"muestra":317,"valor":70,"serie":"real"},{"muestra":319,"valor":45,"serie":"real"},{"muestra":322,"valor":0,"serie":"real"},{"muestra":347,"valor":0,"serie":"real"},{"muestra":352,"valor":74,"serie":"real"},{"muestra":359,"valor":92,"serie":"real"},{"muestra":372,"valor":94,"serie":"real"},{"muestra":381,"valor":94,"serie":"real"},{"muestra":401,"valor":96,"serie":"real"},{"muestra":417,"valor":97,"serie":"real"},{"muestra":422,"valor":97,"serie":"real"},{"muestra":423,"valor":110,"serie":"real"},{"muestra":424,"valor":27,"serie":"real"},{"muestra":426,"valor":97,"serie":"real"},{"muestra":445,"valor":97,"serie":"real"},{"muestra":455,"valor":97,"serie":"real"},{"muestra":458,"valor":70,"serie":"real"},{"muestra":459,"valor":64,"serie":"real"},{"muestra":460,"valor":0,"serie":"real"},{"muestra":486,"valor":0,"serie":"real"},{"muestra":488,"valor":90,"serie":"real"},{"muestra":489,"valor":100,"serie":"real"},{"muestra":491,"valor":95,"serie":"real"},{"muestra":493,"valor":0,"serie":"real"},{"muestra":533,"valor":0,"serie":"real"},{"muestra":536,"valor":80,"serie":"real"},{"muestra":539,"valor":97,"serie":"real"},{"muestra":552,"valor":99,"serie":"real"},{"muestra":558,"valor":98,"serie":"real"},{"muestra":562,"valor":85,"serie":"real"},{"muestra":565,"valor":40,"serie":"real"},{"muestra":568,"valor":0,"serie":"real"},{"muestra":592,"valor":0,"serie":"real"},{"muestra":595,"valor":80,"serie":"real"},{"muestra":600,"valor":99,"serie":"real"},{"muestra":606,"valor":99,"serie":"real"},{"muestra":613,"valor":97,"serie":"real"},{"muestra":616,"valor":70,"serie":"real"},{"muestra":618,"valor":45,"serie":"real"},{"muestra":620,"valor":0,"serie":"real"},{"muestra":652,"valor":0,"serie":"real"},{"muestra":654,"valor":80,"serie":"real"},{"muestra":657,"valor":92,"serie":"real"},{"muestra":665,"valor":90,"serie":"real"},{"muestra":668,"valor":70,"serie":"real"},{"muestra":670,"valor":45,"serie":"real"},{"muestra":673,"valor":0,"serie":"real"},{"muestra":708,"valor":0,"serie":"real"},{"muestra":709,"valor":88,"serie":"real"},{"muestra":712,"valor":75,"serie":"real"},{"muestra":715,"valor":67,"serie":"real"},{"muestra":722,"valor":77,"serie":"real"},{"muestra":728,"valor":80,"serie":"real"},{"muestra":738,"valor":87,"serie":"real"},{"muestra":748,"valor":89,"serie":"real"},{"muestra":754,"valor":87,"serie":"real"},{"muestra":760,"valor":92,"serie":"real"},{"muestra":770,"valor":95,"serie":"real"},
      {"muestra":1,"valor":51,"serie":"estimada"},{"muestra":5,"valor":86,"serie":"estimada"},{"muestra":15,"valor":95,"serie":"estimada"},{"muestra":25,"valor":98,"serie":"estimada"},{"muestra":28,"valor":97,"serie":"estimada"},{"muestra":31,"valor":82,"serie":"estimada"},{"muestra":33,"valor":45,"serie":"estimada"},{"muestra":36,"valor":0,"serie":"estimada"},{"muestra":73,"valor":0,"serie":"estimada"},{"muestra":76,"valor":45,"serie":"estimada"},{"muestra":79,"valor":78,"serie":"estimada"},{"muestra":86,"valor":91,"serie":"estimada"},{"muestra":92,"valor":94,"serie":"estimada"},{"muestra":99,"valor":94,"serie":"estimada"},{"muestra":105,"valor":97,"serie":"estimada"},{"muestra":111,"valor":100,"serie":"estimada"},{"muestra":221,"valor":100,"serie":"estimada"},{"muestra":224,"valor":82,"serie":"estimada"},{"muestra":227,"valor":45,"serie":"estimada"},{"muestra":230,"valor":0,"serie":"estimada"},{"muestra":251,"valor":0,"serie":"estimada"},{"muestra":255,"valor":45,"serie":"estimada"},{"muestra":259,"valor":85,"serie":"estimada"},{"muestra":263,"valor":98,"serie":"estimada"},{"muestra":269,"valor":100,"serie":"estimada"},{"muestra":310,"valor":100,"serie":"estimada"},{"muestra":314,"valor":82,"serie":"estimada"},{"muestra":317,"valor":27,"serie":"estimada"},{"muestra":319,"valor":0,"serie":"estimada"},{"muestra":343,"valor":0,"serie":"estimada"},{"muestra":346,"valor":63,"serie":"estimada"},{"muestra":350,"valor":89,"serie":"estimada"},{"muestra":356,"valor":100,"serie":"estimada"},{"muestra":455,"valor":100,"serie":"estimada"},{"muestra":459,"valor":64,"serie":"estimada"},{"muestra":462,"valor":0,"serie":"estimada"},{"muestra":476,"valor":0,"serie":"estimada"},{"muestra":481,"valor":95,"serie":"estimada"},{"muestra":484,"valor":64,"serie":"estimada"},{"muestra":487,"valor":0,"serie":"estimada"},{"muestra":520,"valor":0,"serie":"estimada"},{"muestra":524,"valor":82,"serie":"estimada"},{"muestra":529,"valor":98,"serie":"estimada"},{"muestra":532,"valor":100,"serie":"estimada"},{"muestra":543,"valor":100,"serie":"estimada"},{"muestra":547,"valor":82,"serie":"estimada"},{"muestra":550,"valor":0,"serie":"estimada"},{"muestra":571,"valor":0,"serie":"estimada"},{"muestra":575,"valor":82,"serie":"estimada"},{"muestra":579,"valor":100,"serie":"estimada"},{"muestra":590,"valor":100,"serie":"estimada"},{"muestra":594,"valor":50,"serie":"estimada"},{"muestra":598,"valor":0,"serie":"estimada"},{"muestra":645,"valor":0,"serie":"estimada"},{"muestra":648,"valor":90,"serie":"estimada"},{"muestra":651,"valor":100,"serie":"estimada"},{"muestra":654,"valor":95,"serie":"estimada"},{"muestra":658,"valor":0,"serie":"estimada"},{"muestra":715,"valor":0,"serie":"estimada"},{"muestra":719,"valor":45,"serie":"estimada"},{"muestra":725,"valor":77,"serie":"estimada"},{"muestra":731,"valor":85,"serie":"estimada"},{"muestra":741,"valor":92,"serie":"estimada"},{"muestra":747,"valor":98,"serie":"estimada"},{"muestra":757,"valor":100,"serie":"estimada"},{"muestra":770,"valor":100,"serie":"estimada"}
    ]
  },
  "concat": [
    {
      "title": "Desplazamiento según X",
      "width": 405, "height": 101,
      "data": {"name": "xa"},
      "encoding": {
        "x": {"field": "muestra", "type": "quantitative", "scale": {"domain": [1, 900], "nice": false, "zero": false}, "axis": {"values": [100, 200, 300, 400, 500, 600, 700, 800, 900], "title": "Muestras"}},
        "y": {"field": "valor", "type": "quantitative", "scale": {"domain": [-130, 130], "nice": false, "zero": false}, "axis": {"values": [-100, -50, 0, 50, 100], "title": "Eje X"}}
      },
      "layer": [
        {"transform": [{"filter": "datum.serie === 'real'"}], "mark": {"type": "line", "color": "#1c1c1c", "strokeWidth": 0.9, "clip": true}, "encoding": {}},
        {"transform": [{"filter": "datum.serie === 'estimada'"}], "mark": {"type": "line", "color": "#19a8f0", "strokeWidth": 2.6, "clip": true}, "encoding": {}}
      ]
    },
    {
      "title": "Desplazamiento según X",
      "width": 400, "height": 101,
      "data": {"name": "xb"},
      "encoding": {
        "x": {"field": "muestra", "type": "quantitative", "scale": {"domain": [1, 770], "nice": false, "zero": false}, "axis": {"values": [100, 200, 300, 400, 500, 600, 700], "title": "Muestras"}},
        "y": {"field": "valor", "type": "quantitative", "scale": {"domain": [-130, 130], "nice": false, "zero": false}, "axis": {"values": [-100, -50, 0, 50, 100], "title": "Eje X"}}
      },
      "layer": [
        {"transform": [{"filter": "datum.serie === 'real'"}], "mark": {"type": "line", "color": "#1c1c1c", "strokeWidth": 0.9, "clip": true}, "encoding": {}},
        {"transform": [{"filter": "datum.serie === 'estimada'"}], "mark": {"type": "line", "color": "#19a8f0", "strokeWidth": 2.6, "clip": true}, "encoding": {}}
      ]
    },
    {
      "title": "Desplazamiento según Y",
      "width": 405, "height": 101,
      "data": {"name": "ya"},
      "encoding": {
        "x": {"field": "muestra", "type": "quantitative", "scale": {"domain": [1, 900], "nice": false, "zero": false}, "axis": {"values": [100, 200, 300, 400, 500, 600, 700, 800, 900], "title": "Muestras"}},
        "y": {"field": "valor", "type": "quantitative", "scale": {"domain": [-130, 130], "nice": false, "zero": false}, "axis": {"values": [-100, -50, 0, 50, 100], "title": "Eje Y"}}
      },
      "layer": [
        {"transform": [{"filter": "datum.serie === 'real'"}], "mark": {"type": "line", "color": "#1c1c1c", "strokeWidth": 0.9, "clip": true}, "encoding": {}},
        {"transform": [{"filter": "datum.serie === 'estimada'"}], "mark": {"type": "line", "color": "#19a8f0", "strokeWidth": 2.6, "clip": true}, "encoding": {}}
      ]
    },
    {
      "title": "Desplazamiento según Y",
      "width": 400, "height": 101,
      "data": {"name": "yb"},
      "encoding": {
        "x": {"field": "muestra", "type": "quantitative", "scale": {"domain": [1, 770], "nice": false, "zero": false}, "axis": {"values": [100, 200, 300, 400, 500, 600, 700], "title": "Muestras"}},
        "y": {"field": "valor", "type": "quantitative", "scale": {"domain": [-130, 130], "nice": false, "zero": false}, "axis": {"values": [-100, -50, 0, 50, 100], "title": "Eje Y"}}
      },
      "layer": [
        {"transform": [{"filter": "datum.serie === 'real'"}], "mark": {"type": "line", "color": "#1c1c1c", "strokeWidth": 0.9, "clip": true}, "encoding": {}},
        {"transform": [{"filter": "datum.serie === 'estimada'"}], "mark": {"type": "line", "color": "#19a8f0", "strokeWidth": 2.6, "clip": true}, "encoding": {}}
      ]
    },
    {
      "title": "Niveles de presión",
      "width": 405, "height": 101,
      "data": {"name": "pa"},
      "encoding": {
        "x": {"field": "muestra", "type": "quantitative", "scale": {"domain": [1, 900], "nice": false, "zero": false}, "axis": {"values": [100, 200, 300, 400, 500, 600, 700, 800, 900], "title": "Muestras"}},
        "y": {"field": "valor", "type": "quantitative", "scale": {"domain": [0, 110], "nice": false, "zero": false}, "axis": {"values": [0, 20, 40, 60, 80, 100], "title": "Presión"}}
      },
      "layer": [
        {"transform": [{"filter": "datum.serie === 'real'"}], "mark": {"type": "line", "color": "#1c1c1c", "strokeWidth": 0.9, "clip": true}, "encoding": {}},
        {"transform": [{"filter": "datum.serie === 'estimada'"}], "mark": {"type": "line", "color": "#19a8f0", "strokeWidth": 2.6, "clip": true}, "encoding": {}}
      ]
    },
    {
      "title": "Niveles de presión",
      "width": 400, "height": 101,
      "data": {"name": "pb"},
      "encoding": {
        "x": {"field": "muestra", "type": "quantitative", "scale": {"domain": [1, 770], "nice": false, "zero": false}, "axis": {"values": [100, 200, 300, 400, 500, 600, 700], "title": "Muestras"}},
        "y": {"field": "valor", "type": "quantitative", "scale": {"domain": [0, 110], "nice": false, "zero": false}, "axis": {"values": [0, 20, 40, 60, 80, 100], "title": "Presión"}}
      },
      "layer": [
        {"transform": [{"filter": "datum.serie === 'real'"}], "mark": {"type": "line", "color": "#1c1c1c", "strokeWidth": 0.9, "clip": true}, "encoding": {}},
        {"transform": [{"filter": "datum.serie === 'estimada'"}], "mark": {"type": "line", "color": "#19a8f0", "strokeWidth": 2.6, "clip": true}, "encoding": {}}
      ]
    },
    {
      "width": 228, "height": 2,
      "data": {"values": [{"rotulo": "(a)"}]},
      "mark": {"type": "text", "font": "Liberation Serif", "fontSize": 21, "color": "#000000", "baseline": "middle", "align": "center"},
      "encoding": {"text": {"field": "rotulo"}}
    },
    {
      "width": 515, "height": 2,
      "data": {"values": [{"rotulo": "(b)"}]},
      "mark": {"type": "text", "font": "Liberation Serif", "fontSize": 21, "color": "#000000", "baseline": "middle", "align": "center"},
      "encoding": {"text": {"field": "rotulo"}}
    }
  ]
}
